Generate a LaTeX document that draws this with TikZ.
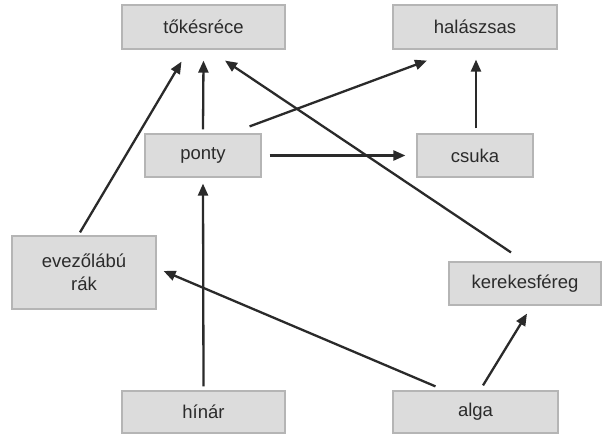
\documentclass[tikz,border=0pt]{standalone}
\usepackage{fontspec}
\setmainfont{Liberation Sans}
\usetikzlibrary{arrows.meta}
\definecolor{boxfill}{HTML}{DCDCDC}
\definecolor{boxline}{HTML}{B5B5B5}
\definecolor{txt}{HTML}{2B2B2B}
\definecolor{arrcol}{HTML}{2A2A2A}
\tikzset{
  box/.style={draw=boxline, line width=1.2pt, fill=boxfill, inner sep=0pt,
    text=txt, align=center, font=\fontsize{18.5}{22.5}\selectfont},
  arr/.style={draw=arrcol, line width=2.3pt,
    -{Triangle[length=12pt,width=10pt]}}
}
\begin{document}
\begin{tikzpicture}[x=1pt,y=-1pt]
\useasboundingbox[fill=white] (0,0) rectangle (603,435);
\node[box, minimum width=163pt, minimum height=44pt] (tok) at (203.5,27) {tőkésréce};
\node[box, minimum width=164pt, minimum height=44pt] (hal) at (475,27) {halászsas};
\node[box, minimum width=116pt, minimum height=43pt] (ponty) at (203,155.5) {ponty};
\node[box, minimum width=116pt, minimum height=43pt] (csuka) at (475,155.5) {csuka};
\node[box, minimum width=144pt, minimum height=73pt] (evez) at (84,272.5) {evezőlábú\\rák};
\node[box, minimum width=152pt, minimum height=43pt] (kerek) at (525,283.5) {kerekesféreg};
\node[box, minimum width=163pt, minimum height=42pt] (hinar) at (203.5,412) {hínár};
\node[box, minimum width=165pt, minimum height=42pt] (alga) at (475.5,412) {alga};

\draw[arr] ([xshift=-4pt,yshift=3pt]evez.north) -- ([xshift=-22pt,yshift=-12pt]tok.south);
\draw[arr] ([yshift=4pt]ponty.north) -- ([yshift=-11pt]tok.south);
\draw[arr] ([xshift=-14pt,yshift=9pt]kerek.north) -- ([xshift=21.5pt,yshift=-11pt]tok.south);
\draw[arr] ([xshift=-12pt,yshift=7pt]ponty.north east) -- ([xshift=-48pt,yshift=-11pt]hal.south);
\draw[arr] ([xshift=1pt,yshift=5pt]csuka.north) -- ([xshift=1pt,yshift=-10pt]hal.south);
\draw[arr] ([xshift=8pt]ponty.east) -- ([xshift=-11pt]csuka.west);
\draw[arr] ([yshift=4pt]hinar.north) -- ([yshift=-6pt]ponty.south);
\draw[arr] ([xshift=-40pt,yshift=4pt]alga.north) -- ([xshift=7pt,yshift=1.5pt]evez.east);
\draw[arr] ([xshift=7.5pt,yshift=5pt]alga.north) -- ([xshift=2pt,yshift=-8pt]kerek.south);
\end{tikzpicture}
\end{document}
